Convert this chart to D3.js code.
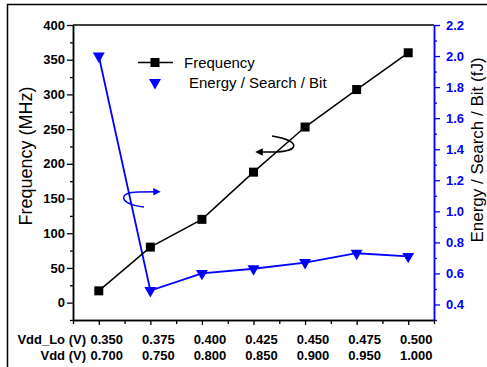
<!DOCTYPE html>
<html><head><meta charset="utf-8">
<script src="https://cdn.jsdelivr.net/npm/d3@7"></script>
<style>
html,body{margin:0;padding:0;background:#fff;}
svg{display:block;font-family:"Liberation Sans",Arial,sans-serif;}
.tick text{font-weight:bold;}
</style></head>
<body>
<svg id="chart" width="487" height="367"></svg>
<script>
// ---- data ----
const vddLo = [0.350, 0.375, 0.400, 0.425, 0.450, 0.475, 0.500];
const vddLoLabels = ["0.350","0.375","0.400","0.425","0.450","0.475","0.500"];
const vddLabels = ["0.700","0.750","0.800","0.850","0.900","0.950","1.000"];
const frequency = [17, 80, 120, 188, 253, 307, 360];          // MHz
const energy = [2.0, 0.49, 0.60, 0.63, 0.67, 0.73, 0.71];      // fJ
const leftTicks = [0, 50, 100, 150, 200, 250, 300, 350, 400];
const leftMinor = [-25, 25, 75, 125, 175, 225, 275, 325, 375];
const rightTicks = [0.4, 0.6, 0.8, 1.0, 1.2, 1.4, 1.6, 1.8, 2.0, 2.2];
const rightMinor = [0.3, 0.5, 0.7, 0.9, 1.1, 1.3, 1.5, 1.7, 1.9, 2.1];
const xMinor = [0.3375, 0.3625, 0.3875, 0.4125, 0.4375, 0.4625, 0.4875, 0.5125];

const BLUE = "#0000ff";
const svg = d3.select("#chart");
const L = 73, R = 434, T = 25, B = 320;

const x = d3.scaleLinear().domain([0.3375, 0.5125]).range([L, R]);
const yL = d3.scaleLinear().domain([-25, 400]).range([B, T]);
const yR = d3.scaleLinear().domain([0.3, 2.2]).range([B, T]);

// outer frame
svg.append("rect").attr("x", 7.5).attr("y", 4.5).attr("width", 520).attr("height", 420)
  .attr("fill", "none").attr("stroke", "#000").attr("stroke-width", 1.5);

// top border of plot
svg.append("line").attr("x1", L).attr("x2", R).attr("y1", T).attr("y2", T)
  .attr("stroke", "#000").attr("stroke-width", 1.5);

function styleAxis(g, color, fs) {
  g.attr("font-family", "Liberation Sans, Arial, sans-serif").attr("font-size", fs).attr("font-weight", "bold");
  g.select(".domain").attr("stroke", color).attr("stroke-width", 1.5);
  g.selectAll(".tick line").attr("stroke", color).attr("stroke-width", 1.3);
  g.selectAll(".tick text").attr("fill", color).style("font-weight", "bold")
    .style("font-size", fs);
}

// left axis
const gL = svg.append("g").attr("transform", `translate(${L},0)`)
  .call(d3.axisLeft(yL).tickValues(leftTicks).tickSize(6).tickPadding(2).tickSizeOuter(0));
styleAxis(gL, "#000", "13px");
const gLm = svg.append("g").attr("transform", `translate(${L},0)`)
  .call(d3.axisLeft(yL).tickValues(leftMinor).tickSize(3).tickFormat("").tickSizeOuter(0));
styleAxis(gLm, "#000", "13px");

// right axis
const gR = svg.append("g").attr("transform", `translate(${R},0)`)
  .call(d3.axisRight(yR).tickValues(rightTicks).tickSize(6).tickPadding(6).tickFormat(d3.format(".1f")).tickSizeOuter(0));
styleAxis(gR, BLUE, "13px");
const gRm = svg.append("g").attr("transform", `translate(${R},0)`)
  .call(d3.axisRight(yR).tickValues(rightMinor).tickSize(3).tickFormat("").tickSizeOuter(0));
styleAxis(gRm, BLUE, "13px");

// bottom axis
const gB = svg.append("g").attr("transform", `translate(0,${B})`)
  .call(d3.axisBottom(x).tickValues(vddLo).tickSize(5).tickFormat("").tickSizeOuter(0));
styleAxis(gB, "#000", "13px");
const gBm = svg.append("g").attr("transform", `translate(0,${B})`)
  .call(d3.axisBottom(x).tickValues(xMinor).tickSize(4).tickFormat("").tickSizeOuter(0));
styleAxis(gBm, "#000", "13px");

// x labels (two rows)
const lab = svg.append("g").attr("font-weight", "bold").attr("font-size", "13px").attr("fill", "#000");
lab.append("text").attr("x", 86).attr("y", 343.5).attr("text-anchor", "end").text("Vdd_Lo (V)");
lab.append("text").attr("x", 86).attr("y", 360).attr("text-anchor", "end").text("Vdd (V)");
lab.selectAll(".r1").data(vddLo).enter().append("text")
  .attr("x", d => x(d) + 8).attr("y", 343.5).attr("text-anchor", "middle")
  .text((d, i) => vddLoLabels[i]);
lab.selectAll(".r2").data(vddLo).enter().append("text")
  .attr("x", d => x(d) + 8).attr("y", 360).attr("text-anchor", "middle")
  .text((d, i) => vddLabels[i]);

// axis titles
svg.append("text").attr("transform", `translate(32,156) rotate(-90)`)
  .attr("text-anchor", "middle").attr("font-size", "18px").attr("fill", "#000")
  .text("Frequency (MHz)");
svg.append("text").attr("transform", `translate(482.5,150) rotate(-90)`)
  .attr("text-anchor", "middle").attr("font-size", "17px").attr("fill", "#000")
  .text("Energy / Search / Bit (fJ)");

// data lines
const freqData = vddLo.map((v, i) => ({v, f: frequency[i]}));
const enData = vddLo.map((v, i) => ({v, e: energy[i]}));

svg.append("path").datum(enData)
  .attr("d", d3.line().x(d => x(d.v)).y(d => yR(d.e)))
  .attr("fill", "none").attr("stroke", BLUE).attr("stroke-width", 1.8);
svg.append("path").datum(freqData)
  .attr("d", d3.line().x(d => x(d.v)).y(d => yL(d.f)))
  .attr("fill", "none").attr("stroke", "#000").attr("stroke-width", 1.5);

const tri = d3.symbol().type(d3.symbolTriangle).size(62);
const sq = d3.symbol().type(d3.symbolSquare).size(81);

svg.selectAll(".tri").data(enData).enter().append("path")
  .attr("d", tri).attr("fill", BLUE)
  .attr("transform", d => `translate(${x(d.v)},${yR(d.e)}) rotate(180)`);
svg.selectAll(".sq").data(freqData).enter().append("path")
  .attr("d", sq).attr("fill", "#000")
  .attr("transform", d => `translate(${x(d.v)},${yL(d.f)})`);

// legend
const lg = svg.append("g");
lg.append("line").attr("x1", 138).attr("x2", 173).attr("y1", 62.5).attr("y2", 62.5)
  .attr("stroke", "#000").attr("stroke-width", 1.5);
lg.append("path").attr("d", sq).attr("fill", "#000").attr("transform", "translate(155,62.5)");
lg.append("path").attr("d", tri).attr("fill", BLUE).attr("transform", "translate(155,82.5) rotate(180)");
lg.append("text").attr("x", 184).attr("y", 68).attr("font-size", "15px").text("Frequency");
lg.append("text").attr("x", 189).attr("y", 87.5).attr("font-size", "15px").text("Energy / Search / Bit");

// curved arrows
svg.append("defs").html(`
  <marker id="ab" viewBox="0 0 10 10" refX="5" refY="5" markerWidth="5" markerHeight="5" orient="auto"><path d="M0,0 L10,5 L0,10 z" fill="${BLUE}"/></marker>
  <marker id="ak" viewBox="0 0 10 10" refX="5" refY="5" markerWidth="5" markerHeight="5" orient="auto"><path d="M0,0 L10,5 L0,10 z" fill="#000"/></marker>`);
svg.append("path").attr("d", "M144,207 C118,204 118,192 138,192 L157,191.7")
  .attr("fill", "none").attr("stroke", BLUE).attr("stroke-width", 1.5).attr("marker-end", "url(#ab)");
svg.append("path").attr("d", "M272,136 C302,141 300,152 272,152 L259,152")
  .attr("fill", "none").attr("stroke", "#000").attr("stroke-width", 1.5).attr("marker-end", "url(#ak)");
</script>
</body></html>
